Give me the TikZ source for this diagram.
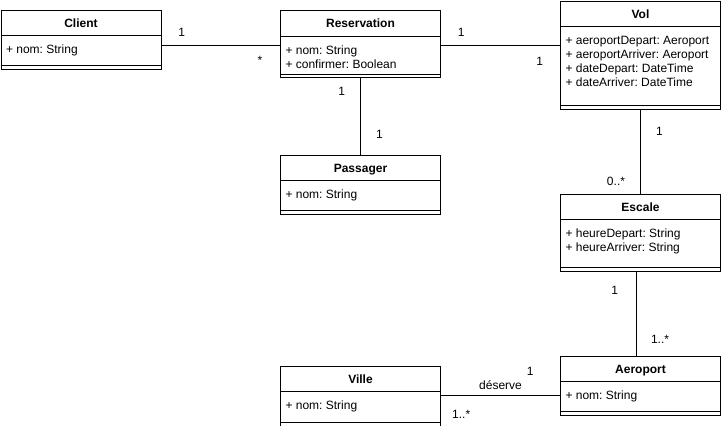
\documentclass[tikz,border=0pt]{standalone}
\usepackage{fontspec}
\setmainfont{Liberation Sans}
\frenchspacing
\usetikzlibrary{positioning}
\tikzstyle{every node}=[font=\fontsize{12}{14}\selectfont]
\tikzstyle{classbox}=[draw, rectangle, minimum width=160pt, inner sep=0pt, anchor=north west]
\tikzstyle{classtitle}=[font=\fontsize{12}{14}\selectfont\bfseries, anchor=base, inner sep=0pt]
\tikzstyle{classattr}=[anchor=north west, align=left, inner sep=0pt]
\tikzstyle{mult}=[inner sep=2pt]
% #1 name, #2 top left, #3 title, #4 height, #5 attributes
\newcommand{\umlclass}[5]{%
  \node[classbox, minimum height=#4pt] (#1) at (#2) {};
  \node[classtitle] (#1-title) at ([yshift=-17.5pt]#1.north) {#3};
  \node[classattr] (#1-attr) at ([shift={(5pt,-26pt)}]#1.north west) {\rule{0pt}{17.5pt}#5};
  \draw ([yshift=-26pt]#1.north west) -- ([yshift=-26pt]#1.north east)
        ([yshift=4pt]#1.south west) -- ([yshift=4pt]#1.south east);
}

\begin{document}
\begin{tikzpicture}[x=1pt, y=-1pt, line width=1pt]
            \useasboundingbox (0,0) rectangle (721,426);
            % classes
            \umlclass{client}{0.5,9.5}{Client}{59}{+ nom: String}
            \umlclass{resa}{280,10}{Reservation}{67}{+ nom: String\\+ confirmer: Boolean}
            \umlclass{vol}{560,0.5}{Vol}{108}{+ aeroportDepart: Aeroport\\+ aeroportArriver: Aeroport\\+ dateDepart: DateTime\\+ dateArriver: DateTime}
            \umlclass{passager}{280,154.5}{Passager}{59}{+ nom: String}
            \umlclass{escale}{560,193.5}{Escale}{77}{+ heureDepart: String\\+ heureArriver: String}
            \umlclass{aeroport}{560,355.5}{Aeroport}{59}{+ nom: String}
            \umlclass{ville}{280,365.5}{Ville}{60}{+ nom: String}
            % associations
            \draw ([yshift=-36pt]client.north east) -- node[mult, pos=.17, above=7pt] {1}
                node[mult, pos=.83, below=8pt] {*} ([yshift=-35.5pt]resa.north west);
            \draw ([yshift=-35.5pt]resa.north east) -- node[mult, pos=.17, above=7pt] {1}
                node[mult, pos=.83, below=9pt] {1} ([yshift=-45pt]vol.north west);
            \draw (resa.south) -- node[mult, pos=.18, left=13pt] {1}
                node[mult, pos=.74, right=13pt] {1} (passager.north);
            \draw (vol.south) -- node[mult, pos=.26, right=13pt] {1}
                node[mult, pos=.86, left=13pt] {0..*} (escale.north);
            \draw ([xshift=-4pt]escale.south) -- node[mult, pos=.23, left=16pt] {1}
                node[mult, pos=.81, right=12pt] {1..*} ([xshift=-4pt]aeroport.north);
            \draw ([yshift=-29.5pt]ville.north east) -- node[mult, pos=.17, below=13pt] {1..*}
                node[mult, pos=.5, above=3pt] {déserve}
                node[mult, pos=.75, above=17pt] {1} ([yshift=-39.5pt]aeroport.north west);
\end{tikzpicture}
\end{document}
